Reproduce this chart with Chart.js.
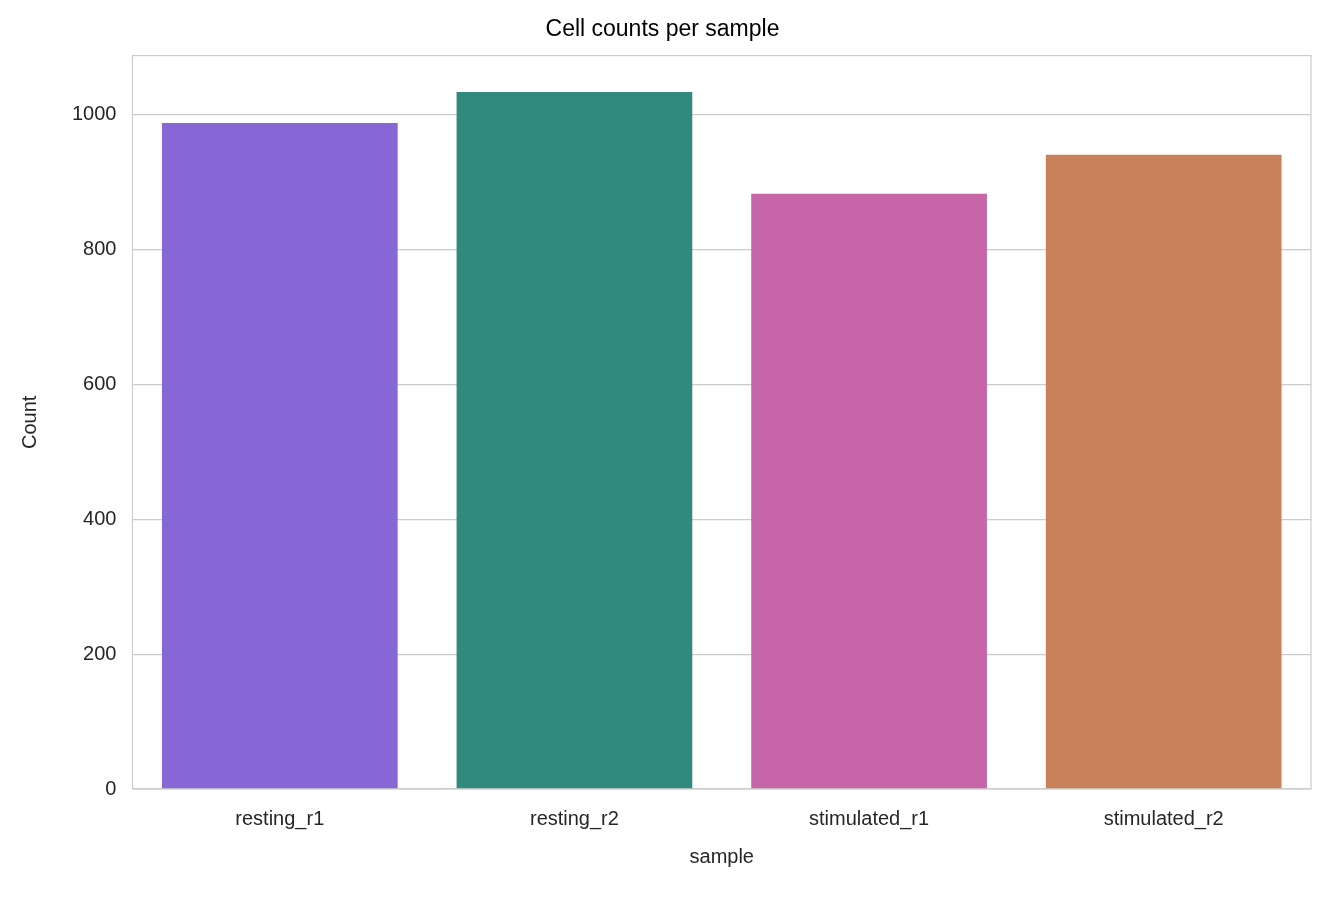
<!DOCTYPE html>
<html><head><meta charset="utf-8">
<script src="https://cdn.jsdelivr.net/npm/chart.js@4"></script>
<style>html,body{margin:0;padding:0;background:#fff}#w{width:1343px;height:897px;position:relative}</style>
</head><body><div id="w"><canvas id="c"></canvas></div>
<script>
const categories = ["resting_r1","resting_r2","stimulated_r1","stimulated_r2"];
const counts = [988, 1034, 883, 941];
const colors = ["#8767d6","#318a7d","#c765a9","#c9815a"];
const yTicks = [0,200,400,600,800,1000];
const border = {id:'border',afterDraw(ch){const a=ch.chartArea,c=ch.ctx;c.save();c.strokeStyle='#cccccc';c.lineWidth=1.2;c.strokeRect(a.left,a.top,a.right-a.left,a.bottom-a.top);c.restore();}};
const F = 'Arial, "Liberation Sans"';
new Chart(document.getElementById('c'),{
type:'bar',
data:{labels:categories,datasets:[{data:counts,backgroundColor:colors,categoryPercentage:1,barPercentage:0.8}]},
options:{responsive:true,maintainAspectRatio:false,animation:false,
layout:{padding:{left:14,right:32,top:4,bottom:24}},
plugins:{legend:{display:false},tooltip:{enabled:false},
title:{display:true,text:'Cell counts per sample',color:'#000',font:{family:F,size:23,weight:'normal'},padding:{top:12,bottom:12}}},
scales:{
x:{grid:{display:false},border:{display:false},ticks:{color:'#262626',font:{family:F,size:20},padding:10},
title:{display:true,text:'sample',color:'#262626',font:{family:F,size:20},padding:{top:4}}},
y:{min:0,max:1088,afterBuildTicks(s){s.ticks=yTicks.map(v=>({value:v}));},
grid:{color:'#cccccc',lineWidth:1.2,drawTicks:false},border:{display:false},
ticks:{color:'#262626',font:{family:F,size:20},padding:16,callback:v=>String(v)},
title:{display:true,text:'Count',color:'#262626',font:{family:F,size:20},padding:{bottom:14}}}
}},
plugins:[border]
});
</script></body></html>
